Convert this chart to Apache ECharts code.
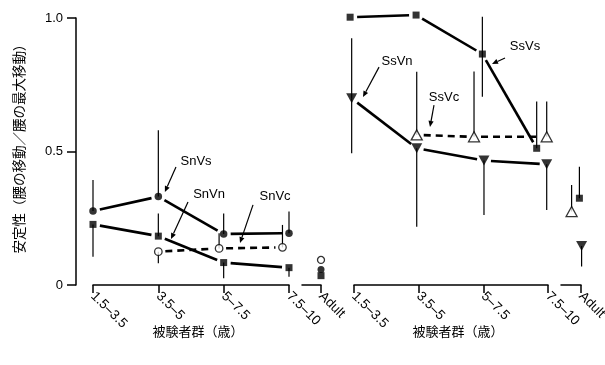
<!DOCTYPE html>
<html><head><meta charset="utf-8">
<script src="https://cdn.jsdelivr.net/npm/echarts@6/dist/echarts.min.js"></script>
<style>html,body{margin:0;padding:0;background:#fff}#c{width:605px;height:365px}</style>
</head><body><div id="c"></div>
<script>
// ---------- data ----------
const groupLabels = ['1.5–3.5', '3.5–5', '5–7.5', '7.5–10'];
const adultLabel = 'Adult';
const yAxisTitle = '安定性（腰の移動／腰の最大移動）';
const xAxisTitle = '被験者群（歳）';

// Left panel (Sn conditions); x = group index (small offsets as drawn)
const snVsX = [0, 1, 2, 3];
const snVsY = [0.277, 0.331, 0.191, 0.194];
const snVsErrLo = [null, null, null, null];
const snVsErrHi = [0.393, 0.58, 0.268, 0.275];

const snVnX = [0, 1, 2, 3];
const snVnY = [0.227, 0.183, 0.084, 0.065];
const snVnErrLo = [0.106, null, 0.025, 0.031];
const snVnErrHi = [null, 0.268, null, null];

const snVcX = [1, 1.93, 2.9];
const snVcY = [0.125, 0.137, 0.141];
const snVcErrLo = [0.081, null, null];
const snVcErrHi = [null, 0.194, 0.225];

// Left adult: [SnVs, SnVn, SnVc]
const snAdultX = [1, 1, 1];
const snAdultY = [0.058, 0.035, 0.094];

// Right panel (Ss conditions)
const ssVsX = [-0.06, 0.96, 1.985, 2.825];
const ssVsY = [1.003, 1.011, 0.865, 0.512];
const ssVsErrLo = [null, null, 0.705, null];
const ssVsErrHi = [null, null, 1.005, 0.687];

const ssVnX = [-0.036, 0.97, 2.01, 2.98];
const ssVnY = [0.699, 0.512, 0.466, 0.452];
const ssVnErrLo = [0.493, 0.218, 0.262, 0.281];
const ssVnErrHi = [0.924, null, null, null];

const ssVcX = [0.97, 1.856, 2.98];
const ssVcY = [0.562, 0.555, 0.555];
const ssVcErrLo = [null, null, null];
const ssVcErrHi = [0.799, 0.80, 0.687];

// Right adult: [SsVs, SsVn, SsVc]
const ssAdultX = [0.92, 1.03, 0.53];
const ssAdultY = [0.325, 0.146, 0.275];
const ssAdultErrLo = [null, 0.069, null];
const ssAdultErrHi = [0.443, null, 0.375];

// Annotation labels (anchored in data coordinates)
const snNotes = ['SnVs', 'SnVn', 'SnVc'];
const snNoteAt = [[1.577, 0.464], [1.776, 0.341], [2.786, 0.330]];
const snArrowFrom = [[1.27, 0.442], [1.454, 0.311], [2.449, 0.300]];
const snArrowTo = [[1.10, 0.348], [1.194, 0.172], [2.25, 0.157]];
const ssNotes = ['SsVn', 'SsVc', 'SsVs'];
const ssNoteAt = [[0.665, 0.839], [1.392, 0.704], [2.644, 0.895]];
const ssArrowFrom = [[0.387, 0.816], [1.237, 0.674], [2.335, 0.850]];
const ssArrowTo = [[0.139, 0.704], [1.175, 0.592], [2.134, 0.828]];

// ---------- helpers ----------
const INK = '#000';
const FONT = '"Liberation Sans", Arial, sans-serif';
const CJK = '"Noto Sans CJK JP", "Noto Sans CJK SC", sans-serif';

function pts(xs, ys) { return xs.map((x, i) => [x, ys[i]]); }
function segs(xs, ys) {
  const out = [];
  for (let i = 0; i < xs.length - 1; i++) out.push([xs[i], ys[i], xs[i + 1], ys[i + 1]]);
  return out;
}
function errs(xs, ys, lo, hi) {
  const out = [];
  xs.forEach((x, i) => {
    if (lo[i] != null) out.push([x, ys[i], lo[i]]);
    if (hi[i] != null) out.push([x, ys[i], hi[i]]);
  });
  return out;
}

function lineSeries(grid, xs, ys, dashed) {
  return {
    type: 'custom', xAxisIndex: grid, yAxisIndex: grid, z: 3, silent: true, clip: false,
    encode: { x: [0, 2], y: [1, 3] },
    data: segs(xs, ys),
    renderItem: function (params, api) {
      const a = api.coord([api.value(0), api.value(1)]);
      const b = api.coord([api.value(2), api.value(3)]);
      const dx = b[0] - a[0], dy = b[1] - a[1];
      const L = Math.hypot(dx, dy) || 1, ux = dx / L, uy = dy / L, g = 7;
      return {
        type: 'line',
        shape: { x1: a[0] + ux * g, y1: a[1] + uy * g, x2: b[0] - ux * g, y2: b[1] - uy * g },
        style: { stroke: INK, lineWidth: 2.6, lineDash: dashed ? [7, 5] : null, fill: null }
      };
    }
  };
}

function errSeries(grid, data) {
  return {
    type: 'custom', xAxisIndex: grid, yAxisIndex: grid, z: 2, silent: true, clip: false,
    encode: { x: 0, y: [1, 2] },
    data: data,
    renderItem: function (params, api) {
      const a = api.coord([api.value(0), api.value(1)]);
      const b = api.coord([api.value(0), api.value(2)]);
      return {
        type: 'line',
        shape: { x1: a[0], y1: a[1], x2: b[0], y2: b[1] },
        style: { stroke: INK, lineWidth: 1.2 }
      };
    }
  };
}

function markerSeries(grid, data, symbol, size, open, rotate) {
  return {
    type: 'scatter', xAxisIndex: grid, yAxisIndex: grid, z: 5, silent: true, clip: false,
    symbol: symbol, symbolSize: size, symbolRotate: rotate || 0,
    itemStyle: open ? { color: '#fff', borderColor: INK, borderWidth: 1.3 } : { color: INK },
    data: data
  };
}

function noteSeries(grid, names, at, from, to) {
  return {
    type: 'custom', xAxisIndex: grid, yAxisIndex: grid, z: 6, silent: true, clip: false,
    encode: { x: [0, 2, 4], y: [1, 3, 5] },
    data: names.map((n, i) => [at[i][0], at[i][1], from[i][0], from[i][1], to[i][0], to[i][1]]),
    renderItem: function (params, api) {
      const t = api.coord([api.value(0), api.value(1)]);
      const f = api.coord([api.value(2), api.value(3)]);
      const e = api.coord([api.value(4), api.value(5)]);
      const dx = e[0] - f[0], dy = e[1] - f[1];
      const L = Math.hypot(dx, dy) || 1, ux = dx / L, uy = dy / L;
      const hl = 6, hw = 2.6;
      const bx = e[0] - ux * hl, by = e[1] - uy * hl;
      return {
        type: 'group',
        children: [
          { type: 'text', x: t[0], y: t[1],
            style: { text: names[params.dataIndex], fill: INK, fontSize: 13, fontFamily: FONT,
                     align: 'center', verticalAlign: 'middle' } },
          { type: 'line', shape: { x1: f[0], y1: f[1], x2: bx, y2: by },
            style: { stroke: INK, lineWidth: 1.2 } },
          { type: 'polygon', shape: { points: [[e[0], e[1]], [bx - uy * hw, by + ux * hw], [bx + uy * hw, by - ux * hw]] },
            style: { fill: INK } }
        ]
      };
    }
  };
}

// ---------- axes ----------
const axisLineStyle = { color: INK, width: 1.5 };
const labelStyle = { color: INK, fontSize: 13.5, fontFamily: FONT, rotate: -45, margin: 9 };

function mainX(grid, withName) {
  return {
    gridIndex: grid, type: 'value', min: 0, max: 3, interval: 1,
    axisLine: { show: true, onZero: false, lineStyle: axisLineStyle },
    axisTick: { show: true, length: 8, lineStyle: axisLineStyle },
    splitLine: { show: false },
    axisLabel: Object.assign({ formatter: v => groupLabels[Math.round(v)] || '' }, labelStyle),
    name: withName ? xAxisTitle : '', nameLocation: 'middle', nameGap: 40, nameMoveOverlap: false,
    nameTextStyle: { color: INK, fontSize: 13, fontFamily: CJK, padding: [0, 0, 0, 14] }
  };
}
function adultX(grid) {
  return {
    gridIndex: grid, type: 'value', min: 0, max: 1,
    axisLine: { show: true, onZero: false, lineStyle: axisLineStyle },
    axisTick: { show: true, length: 8, lineStyle: axisLineStyle, customValues: [1] },
    splitLine: { show: false },
    axisLabel: Object.assign({ formatter: v => (v === 1 ? adultLabel : ''), customValues: [1] }, labelStyle)
  };
}
function hiddenY(grid) {
  return { gridIndex: grid, type: 'value', min: 0, max: 1, show: false, splitLine: { show: false } };
}

const option = {
  backgroundColor: '#fff',
  animation: false,
  grid: [
    { left: 93, width: 196, top: 18, height: 267, outerBoundsMode: 'none' },
    { left: 302, width: 19, top: 18, height: 267, outerBoundsMode: 'none' },
    { left: 354, width: 194, top: 18, height: 267, outerBoundsMode: 'none' },
    { left: 561, width: 20, top: 18, height: 267, outerBoundsMode: 'none' },
    { left: 76, width: 2, top: 18, height: 267, outerBoundsMode: 'none' }
  ],
  xAxis: [mainX(0, true), adultX(1), mainX(2, true), adultX(3),
          { gridIndex: 4, type: 'value', min: 0, max: 1, show: false }],
  yAxis: [
    hiddenY(0), hiddenY(1), hiddenY(2), hiddenY(3),
    {
      gridIndex: 4, type: 'value', min: 0, max: 1, interval: 0.5, position: 'left',
      axisLine: { show: true, onZero: false, lineStyle: axisLineStyle },
      axisTick: { show: true, length: 9, lineStyle: axisLineStyle },
      splitLine: { show: false },
      axisLabel: { color: INK, fontSize: 13, fontFamily: FONT, margin: 13,
                   formatter: v => (v === 0 ? '0' : v.toFixed(1)) },
      name: yAxisTitle, nameLocation: 'middle', nameRotate: 90, nameGap: 50, nameMoveOverlap: false,
      nameTextStyle: { color: INK, fontSize: 13.5, fontFamily: CJK, padding: [0, 0, 0, 12] }
    }
  ],
  series: [
    // connecting lines
    lineSeries(0, snVsX, snVsY, false),
    lineSeries(0, snVnX, snVnY, false),
    lineSeries(0, snVcX, snVcY, true),
    lineSeries(2, ssVsX, ssVsY, false),
    lineSeries(2, ssVnX, ssVnY, false),
    lineSeries(2, ssVcX, ssVcY, true),
    // error bars
    errSeries(0, errs(snVsX, snVsY, snVsErrLo, snVsErrHi)
      .concat(errs(snVnX, snVnY, snVnErrLo, snVnErrHi))
      .concat(errs(snVcX, snVcY, snVcErrLo, snVcErrHi))),
    errSeries(2, errs(ssVsX, ssVsY, ssVsErrLo, ssVsErrHi)
      .concat(errs(ssVnX, ssVnY, ssVnErrLo, ssVnErrHi))
      .concat(errs(ssVcX, ssVcY, ssVcErrLo, ssVcErrHi))),
    errSeries(3, errs(ssAdultX, ssAdultY, ssAdultErrLo, ssAdultErrHi)),
    // markers
    markerSeries(0, pts(snVsX, snVsY), 'circle', 7.5, false),
    markerSeries(0, pts(snVnX, snVnY), 'rect', 7, false),
    markerSeries(0, pts(snVcX, snVcY), 'circle', 7.5, true),
    markerSeries(1, [[snAdultX[0], snAdultY[0]]], 'circle', 7, false),
    markerSeries(1, [[snAdultX[1], snAdultY[1]]], 'rect', 7, false),
    markerSeries(1, [[snAdultX[2], snAdultY[2]]], 'circle', 7, true),
    markerSeries(2, pts(ssVsX, ssVsY), 'rect', 7, false),
    markerSeries(2, pts(ssVnX, ssVnY), 'triangle', [11, 10], false, 180),
    markerSeries(2, pts(ssVcX, ssVcY), 'triangle', [11, 10], true),
    markerSeries(3, [[ssAdultX[0], ssAdultY[0]]], 'rect', 7, false),
    markerSeries(3, [[ssAdultX[1], ssAdultY[1]]], 'triangle', [11, 10], false, 180),
    markerSeries(3, [[ssAdultX[2], ssAdultY[2]]], 'triangle', [11, 10], true),
    // annotations
    noteSeries(0, snNotes, snNoteAt, snArrowFrom, snArrowTo),
    noteSeries(2, ssNotes, ssNoteAt, ssArrowFrom, ssArrowTo)
  ]
};

const chart = echarts.init(document.getElementById('c'), null, { renderer: 'canvas' });
chart.setOption(option);
</script>
</body></html>
